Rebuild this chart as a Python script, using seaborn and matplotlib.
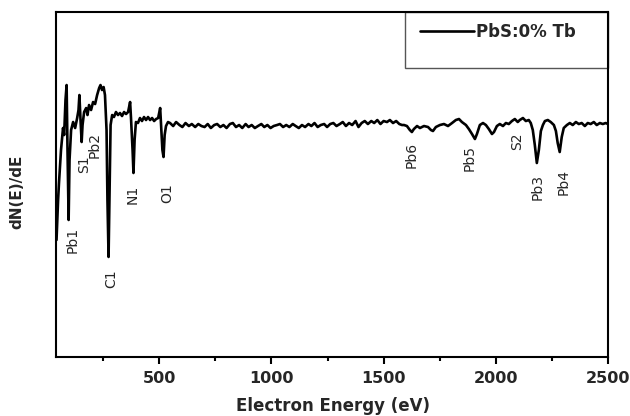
"""
auger_spectrum.py
"""

import numpy as np
import pandas as pd
import seaborn as sns
import matplotlib.pyplot as plt
from matplotlib.patches import Rectangle
from matplotlib.ticker import MultipleLocator


# Auger spectrum (energy in eV, dN(E)/dE in arbitrary units)
energy_low = [42, 49, 53, 62, 71, 76, 82, 87, 91, 96,
              100, 107, 116, 125, 134, 140, 144, 149, 154, 158,
              165, 174, 180, 187, 196, 205, 214, 223, 232, 238,
              245, 252, 258, 265, 269, 274, 278, 283, 290, 298,
              307, 316, 325, 334, 343, 352, 361, 370, 374, 381,
              385, 390, 396, 405, 414, 423, 432, 441, 450, 459,
              468, 477, 486, 495, 504, 508, 514, 519, 524, 530,
              539]
signal_low = [-115, -75, -58, -25, -3, -10, 25, 40, -25, -95,
              -35, -5, 3, -3, 7, 15, 30, 5, -17, 0,
              13, 17, 10, 20, 15, 23, 21, 30, 37, 40,
              35, 38, 30, -5, -75, -132, -75, 0, 10, 8,
              13, 10, 12, 9, 13, 11, 13, 23, 7, -25,
              -48, -15, 3, 2, 7, 4, 8, 5, 8, 5,
              7, 4, 6, 7, 17, 0, -25, -32, -10, -1,
              3]

energy_mid = [548, 562, 575, 590, 603, 617, 632, 645, 660, 674,
              688, 702, 716, 730, 745, 758, 772, 786, 800, 815,
              828, 842, 856, 870, 885, 898, 912, 926, 940, 955,
              968, 982, 996, 1010, 1025, 1038, 1052, 1066, 1080, 1095,
              1108, 1122, 1136, 1150, 1165, 1178, 1192, 1206, 1220, 1235,
              1248, 1262, 1276, 1290, 1305, 1318, 1332, 1346, 1360, 1375,
              1388, 1402, 1416, 1430, 1445, 1458, 1472, 1486, 1500, 1515,
              1528, 1542, 1556, 1570, 1582]
signal_mid = [2, -1, 3, 0, -2, 2, -1, 1, -2, 1,
              -1, -2, 1, -3, 0, 1, -2, 0, -3, 1,
              2, -2, 0, -3, 1, -2, 0, -3, -1, 1,
              -2, 0, -3, -1, 0, 1, -2, 0, -2, 1,
              -1, -3, 0, -2, 1, -1, 2, -2, 0, 1,
              -2, 1, 2, -1, 1, 3, -1, 2, 0, 4,
              -2, 2, 4, 1, 4, 2, 5, 1, 4, 3,
              5, 2, 4, 1, 0]

energy_high = [1591, 1604, 1617, 1626, 1635, 1649, 1662, 1680, 1698, 1711,
               1720, 1733, 1751, 1769, 1787, 1805, 1822, 1836, 1849, 1867,
               1880, 1894, 1907, 1916, 1929, 1943, 1956, 1969, 1983, 1992,
               2005, 2018, 2032, 2045, 2058, 2072, 2085, 2098, 2107, 2121,
               2134, 2147, 2156, 2165, 2174, 2183, 2192, 2201, 2210, 2219,
               2232, 2245, 2259, 2268, 2276, 2285, 2294, 2303, 2317, 2330,
               2343, 2357, 2370, 2383, 2397, 2410, 2423, 2437, 2450, 2464,
               2477, 2490, 2500]
signal_high = [0, -1, -5, -7, -4, -1, -3, -1, -2, -5,
               -6, -2, 0, 1, -1, 2, 5, 6, 3, 0,
               -4, -9, -14, -9, 0, 2, 0, -4, -9, -7,
               -1, 1, -1, 2, 1, 4, 6, 3, 5, 7,
               4, 5, 2, -5, -20, -38, -25, -6, 0, 4,
               5, 3, 0, -6, -18, -27, -12, -3, 0, 2,
               0, 3, 1, 2, -1, 2, 1, 3, 0, 2,
               1, 2, 1]

# peak assignments and where their labels sit
peak_names = ['Pb1', 'S1', 'Pb2', 'C1', 'N1', 'O1',
              'Pb6', 'Pb5', 'S2', 'Pb3', 'Pb4']
peak_label_x = [116, 165, 214, 285, 383, 537, 1626, 1885, 2094, 2188, 2304]
peak_label_y = [-115, -39, -20, -154, -69, -68, -30, -33, -16, -62, -57]

df = pd.DataFrame({
    'energy': energy_low + energy_mid + energy_high,
    'signal': signal_low + signal_mid + signal_high,
})

sns.set_theme(style='ticks')
plt.rcParams['font.family'] = ['DejaVu Sans']

fig, ax = plt.subplots(figsize=(6.3, 4.16), dpi=100)
fig.subplots_adjust(left=0.089, right=0.965, bottom=0.142, top=0.971)

sns.lineplot(data=df, x='energy', y='signal', color='black', linewidth=1.9,
             sort=False, estimator=None, label='PbS:0% Tb', ax=ax)

for name, x, y in zip(peak_names, peak_label_x, peak_label_y):
    ax.text(x, y, name, rotation=90, ha='center', va='center', fontsize=10)

ax.set_xlim(40, 2500)
ax.set_ylim(-232, 113)
ax.set_yticks([])
ax.xaxis.set_major_locator(MultipleLocator(500))
ax.xaxis.set_minor_locator(MultipleLocator(250))
ax.tick_params(axis='x', which='major', direction='out', length=5, width=1.5,
               pad=5, labelsize=11.5, color='black')
ax.tick_params(axis='x', which='minor', direction='out', length=3, width=1.5,
               color='black')
for lbl in ax.get_xticklabels():
    lbl.set_fontweight('bold')

for sp in ax.spines.values():
    sp.set_linewidth(1.5)
    sp.set_color('black')

ax.set_xlabel('Electron Energy (eV)', fontsize=12, fontweight='bold')
ax.set_ylabel('dN(E)/dE', fontsize=11, fontweight='bold')
ax.xaxis.set_label_coords(0.502, -0.115)
ax.yaxis.set_label_coords(-0.058, 0.478)

# legend box is taller than its single entry
ax.add_patch(Rectangle((0.632, 0.838), 0.368, 0.162, transform=ax.transAxes,
                       fill=False, edgecolor='#555555', linewidth=1.0,
                       clip_on=False))
ax.legend(loc='center left', bbox_to_anchor=(0.66, 0.942), frameon=False,
          handlelength=3.2, handletextpad=0.15, borderpad=0, borderaxespad=0,
          prop={'weight': 'bold', 'size': 12})

fig.savefig('out.png', dpi=100)
